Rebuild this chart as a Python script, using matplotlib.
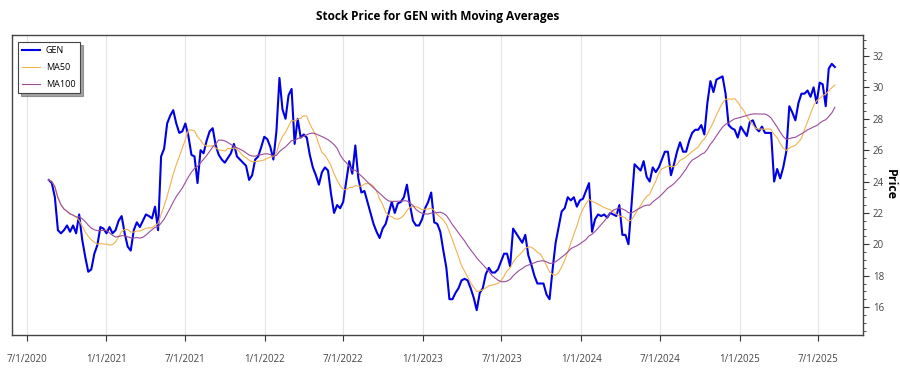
import matplotlib.pyplot as plt
import matplotlib.dates as mdates
from matplotlib.ticker import MultipleLocator
import pandas as pd

plt.rcParams['font.family'] = ['Open Sans', 'DejaVu Sans']

# weekly closing prices (Aug 2020 - Aug 2025)
start_date = '2020-08-21'
gen_2020_21 = [24.1, 23.9, 23.0, 20.9, 20.7, 20.9, 21.2, 20.8, 21.2, 20.7,
               21.9, 20.3, 19.2, 18.25, 18.4, 19.4, 19.95, 21.1, 21.0, 20.7,
               21.1, 20.7, 20.9, 21.5, 21.8, 20.7, 19.85, 19.6, 20.9, 21.4,
               21.1, 21.5, 21.9, 21.8, 21.65, 22.4, 20.9, 25.6, 26.1, 27.7,
               28.2, 28.55, 27.7, 27.1, 27.2, 27.7, 26.9, 25.7, 25.6, 23.9]
gen_2021_22 = [26.0, 25.8, 26.6, 27.2, 27.4, 26.3, 25.7, 25.4, 25.2, 25.5,
               25.8, 26.4, 25.6, 25.4, 25.2, 25.0, 24.1, 24.4, 25.4, 25.6,
               26.2, 26.85, 26.7, 26.2, 25.4, 27.2, 30.6, 28.6, 28.0, 29.5,
               29.9, 26.4, 28.0, 26.8, 27.0, 26.8, 25.7, 24.9, 24.4, 23.8,
               24.6, 24.9, 24.7, 23.2, 22.0, 22.5, 22.3, 22.7, 24.0, 25.3]
gen_2022_23 = [24.5, 26.3, 24.2, 23.3, 23.4, 22.7, 22.0, 21.3, 20.8, 20.4,
               21.0, 21.3, 22.0, 22.7, 22.0, 22.6, 22.7, 23.0, 23.8, 22.5,
               21.5, 21.2, 21.2, 21.6, 22.3, 22.7, 23.3, 21.4, 21.3, 20.8,
               19.6, 18.5, 16.5, 16.5, 16.9, 17.2, 17.7, 17.8, 17.7, 17.2,
               16.6, 15.8, 16.9, 17.2, 18.1, 18.5, 18.2, 18.2, 18.4, 18.9]
gen_2023_24 = [19.4, 19.4, 18.6, 21.0, 20.7, 20.4, 20.1, 20.6, 19.3, 18.7,
               18.0, 17.5, 17.5, 17.5, 16.8, 16.5, 18.4, 20.1, 21.1, 22.1,
               22.3, 23.0, 22.8, 23.0, 22.4, 22.8, 22.9, 23.4, 23.9, 20.8,
               21.6, 21.9, 21.8, 21.9, 21.7, 22.0, 21.9, 21.8, 22.5, 20.6,
               20.6, 20.0, 22.5, 25.1, 24.9, 24.7, 25.3, 24.3, 24.0, 24.9]
gen_2024_25 = [24.6, 24.9, 25.4, 25.9, 25.9, 24.4, 25.1, 25.9, 26.5, 25.9,
               25.9, 26.6, 27.1, 27.3, 27.3, 27.6, 27.0, 29.0, 30.4, 29.7,
               30.5, 30.6, 30.7, 29.6, 27.6, 27.4, 27.3, 26.8, 27.5, 27.2,
               26.9, 27.8, 27.9, 27.4, 27.2, 27.5, 27.1, 27.1, 27.1, 24.0,
               24.8, 24.2, 24.9, 25.9, 28.8, 28.4, 27.9, 29.0, 29.6, 29.6]
gen_2025 = [29.8, 29.4, 30.0, 29.0, 30.3, 30.2, 28.8, 31.2, 31.5, 31.3]

prices = gen_2020_21 + gen_2021_22 + gen_2022_23 + gen_2023_24 + gen_2024_25 + gen_2025
dates = pd.date_range(start_date, periods=len(prices), freq='7D')
s = pd.Series(prices, index=dates)
ma50 = s.rolling(10, min_periods=1).mean()   # 50 trading days ~ 10 weeks
ma100 = s.rolling(20, min_periods=1).mean()  # 100 trading days ~ 20 weeks

tick_dates = pd.to_datetime(['2020-07-01', '2021-01-01', '2021-07-01', '2022-01-01',
                             '2022-07-01', '2023-01-01', '2023-07-01', '2024-01-01',
                             '2024-07-01', '2025-01-01', '2025-07-01'])

fig = plt.figure(figsize=(9, 3.75), dpi=100)
ax = fig.add_axes([0.0128, 0.1067, 0.9461, 0.80])

ax.plot(s.index, s.values, color='#0000e6', lw=1.5, label='GEN')
ax.plot(ma50.index, ma50.values, color='#f2b24c', lw=0.8, label='MA50')
ax.plot(ma100.index, ma100.values, color='#9b4d9b', lw=0.8, label='MA100')

ax.set_xlim(pd.Timestamp('2020-05-27'), pd.Timestamp('2025-10-12'))
ax.set_ylim(14.22, 33.34)

ax.set_xticks(tick_dates)
ax.set_xticklabels([f'{d.month}/{d.day}/{d.year}' for d in tick_dates])
ax.grid(axis='x', color='#e4e4e4', lw=0.8)
ax.set_axisbelow(True)

ax.yaxis.tick_right()
ax.yaxis.set_label_position('right')
ax.yaxis.set_major_locator(MultipleLocator(2))
ax.yaxis.set_minor_locator(MultipleLocator(0.5))
ax.set_ylabel('Price', fontsize=9, fontweight='bold', rotation=270, labelpad=9)

ax.tick_params(axis='x', labelsize=7, length=4, pad=10, colors='#333333', labelcolor='#444444')
ax.tick_params(axis='y', which='major', labelsize=7, length=4, pad=3, colors='#333333', labelcolor='#444444')
ax.tick_params(axis='y', which='minor', length=2, colors='#333333')
for sp in ax.spines.values():
    sp.set_color('#444444')
    sp.set_linewidth(1.0)

ax.set_title('Stock Price for GEN with Moving Averages', fontsize=8.5, fontweight='bold', pad=11)

leg = ax.legend(loc='upper left', fontsize=6.5, frameon=True, fancybox=False, shadow=True,
                edgecolor='#444444', borderpad=0.5, handlelength=2.0, labelspacing=0.85,
                handletextpad=0.6, bbox_to_anchor=(0.002, 0.992))
leg.get_frame().set_linewidth(0.8)

fig.savefig('out.png', dpi=100)
